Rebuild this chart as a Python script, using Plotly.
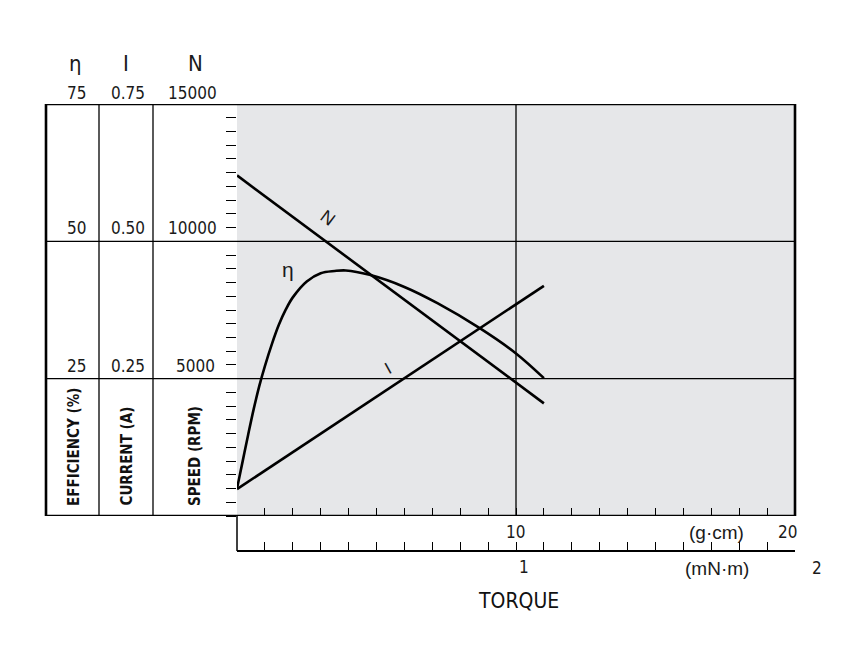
import plotly.graph_objects as go

# ---------------- data ----------------
torque_speed = [0.0, 11.0]          # g·cm
speed_rpm = [12400, 4100]

torque_current = [0.0, 11.0]        # g·cm
current_a = [0.049, 0.419]

torque_eff = [0.0, 0.2, 0.4, 0.6, 0.8, 1.0, 1.25, 1.5, 1.75, 2.0, 2.5, 3.0,
              3.5, 3.9, 4.75, 6.0, 7.2, 8.7, 10.0, 11.0]
efficiency_pct = [5.0, 9.9, 14.8, 19.5, 23.7, 27.3, 31.3, 34.8, 37.6, 39.8, 42.7, 44.2,
                  44.6, 44.7, 43.9, 41.7, 38.7, 34.2, 29.6, 25.1]

col_headers = ["η", "I", "N"]
eff_ticks = ["25", "50", "75"]
cur_ticks = ["0.25", "0.50", "0.75"]
spd_ticks = ["5000", "10000", "15000"]
tick_speeds = [5000, 10000, 15000]
col_titles = ["EFFICIENCY (%)", "CURRENT (A)", "SPEED (RPM)"]

# ---------------- layout geometry (reference pixel coords) ----------------
OFF = 8                      # page body margin
W, H = 866 - OFF, 658 - OFF
L, R, T, B = 237, 813, 104, 551
PW, PH = R - L, B - T


def px(x):
    return (x - L) / PW


def py(y):
    return (B - y) / PH


NARROW = "DejaVu Sans Condensed, Liberation Sans Narrow, sans-serif"
REG = "Liberation Sans, Arial, sans-serif"
GRAY = "#e6e7e9"
TXT = "#1a1a1a"

fig = go.Figure()

line_style = dict(color="black", width=2.6)
fig.add_trace(go.Scatter(x=torque_speed, y=speed_rpm, mode="lines", line=line_style,
                         yaxis="y", xaxis="x", showlegend=False, hoverinfo="skip"))
fig.add_trace(go.Scatter(x=torque_current, y=current_a, mode="lines", line=line_style,
                         yaxis="y2", xaxis="x", showlegend=False, hoverinfo="skip"))
fig.add_trace(go.Scatter(x=torque_eff, y=efficiency_pct, mode="lines",
                         line=dict(color="black", width=2.6, shape="spline", smoothing=1.0),
                         yaxis="y3", xaxis="x", showlegend=False, hoverinfo="skip"))
# dummy trace for the mN·m axis
fig.add_trace(go.Scatter(x=[0, 2], y=[None, None], xaxis="x2", yaxis="y",
                         showlegend=False, hoverinfo="skip"))

ydom0 = py(516)
xdom1 = px(795)

shapes = []
shapes.append(dict(type="rect", xref="x", yref="y", x0=0, x1=20, y0=0, y1=15000,
                   fillcolor=GRAY, line=dict(width=0), layer="below"))
for v in [5000, 10000]:
    shapes.append(dict(type="line", xref="paper", yref="y", x0=px(46), x1=xdom1,
                       y0=v, y1=v, line=dict(color="black", width=1.3)))
shapes.append(dict(type="line", xref="x", yref="y", x0=10, x1=10, y0=0, y1=15000,
                   line=dict(color="black", width=1.3)))
for xc in [99, 153]:
    shapes.append(dict(type="line", xref="paper", yref="y", x0=px(xc), x1=px(xc),
                       y0=0, y1=15000, line=dict(color="black", width=1.3)))
shapes.append(dict(type="rect", xref="paper", yref="y", x0=px(46), x1=xdom1,
                   y0=0, y1=15000, line=dict(color="black", width=2.6)))
shapes.append(dict(type="line", xref="paper", yref="paper", x0=0, x1=0,
                   y0=0, y1=ydom0, line=dict(color="black", width=1.5)))

ann = []
col_x = [75, 126, 195]
for i, h in enumerate(col_headers):
    ann.append(dict(text=h, xref="paper", yref="paper", x=px(col_x[i]), y=py(64),
                    showarrow=False, font=dict(family=NARROW, size=22, color=TXT),
                    xanchor="center", yanchor="middle"))
num_x = [76, 127.5, 192]
for j, v in enumerate(tick_speeds):
    yl = [366, 228, 93][j]
    for i, labels in enumerate([eff_ticks, cur_ticks, spd_ticks]):
        xx = num_x[i]
        if i == 2 and labels[j] == "5000":
            xx = 195
        ann.append(dict(text=labels[j], xref="paper", yref="paper", x=px(xx), y=py(yl),
                        showarrow=False, font=dict(family=NARROW, size=17, color=TXT),
                        xanchor="center", yanchor="middle"))
title_x = [74, 126, 195]
for i, t in enumerate(col_titles):
    ann.append(dict(text="<b>" + t + "</b>", xref="paper", yref="paper", x=px(title_x[i]),
                    y=py(508), textangle=-90, showarrow=False,
                    font=dict(family=NARROW, size=15, color="#111"),
                    xanchor="center", yanchor="bottom"))
for txt, xx, yy, fam, sz in [("10", 515.5, 532, NARROW, 17), ("20", 787.5, 532, NARROW, 17),
                             ("(g·cm)", 716, 532, REG, 19), ("1", 523.5, 567, NARROW, 17),
                             ("2", 817, 568, NARROW, 17), ("(mN·m)", 717, 568, REG, 19)]:
    ann.append(dict(text=txt, xref="paper", yref="paper", x=px(xx), y=py(yy),
                    showarrow=False, font=dict(family=fam, size=sz, color=TXT),
                    xanchor="center", yanchor="middle"))
ann.append(dict(text="TORQUE", xref="paper", yref="paper", x=px(518), y=py(601),
                showarrow=False, font=dict(family=NARROW, size=21, color="#111"),
                xanchor="center", yanchor="middle"))
ann.append(dict(text="N", xref="x", yref="y", x=3.25, y=10840, textangle=37,
                showarrow=False, font=dict(family=REG, size=18, color=TXT)))
ann.append(dict(text="η", xref="x", yref="y3", x=1.84, y=44.8,
                showarrow=False, font=dict(family=REG, size=21, color=TXT)))
ann.append(dict(text="I", xref="x", yref="y2", x=5.42, y=0.268, textangle=-29,
                showarrow=False, font=dict(family=REG, size=17, color=TXT)))

fig.update_layout(
    width=W, height=H,
    margin=dict(l=L - OFF, r=W - (R - OFF), t=T - OFF, b=H - (B - OFF), pad=0),
    paper_bgcolor="white", plot_bgcolor="white",
    showlegend=False,
    xaxis=dict(domain=[0, xdom1], range=[0, 20], anchor="y", showgrid=False,
               zeroline=False, showline=False, ticks="inside", dtick=1, tick0=0,
               ticklen=8, tickwidth=1.3, tickcolor="black", showticklabels=False),
    xaxis2=dict(domain=[0, 1], range=[0, 2], anchor="free", position=0, overlaying="x",
                showgrid=False, zeroline=False, showline=True, linecolor="black",
                linewidth=1.7, ticks="inside", dtick=0.1, tick0=0, ticklen=8,
                tickwidth=1.3, tickcolor="black", showticklabels=False),
    yaxis=dict(domain=[ydom0, 1], range=[0, 15000], anchor="x", showgrid=False,
               zeroline=False, showline=False, ticks="outside", dtick=500, tick0=0,
               ticklen=10, tickwidth=1.3, tickcolor="black", showticklabels=False),
    yaxis2=dict(range=[0, 0.75], overlaying="y", anchor="x", visible=False),
    yaxis3=dict(range=[0, 75], overlaying="y", anchor="x", visible=False),
    shapes=shapes, annotations=ann,
)

fig.write_html("out.html")
